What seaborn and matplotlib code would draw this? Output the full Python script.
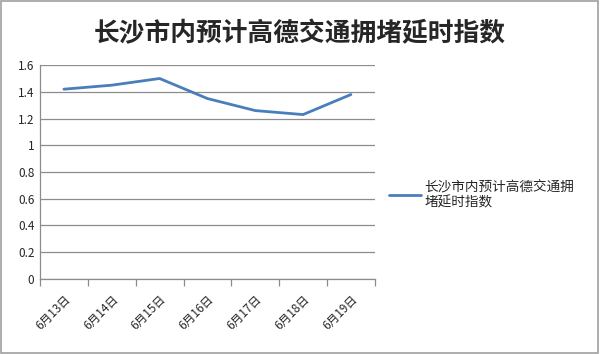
import matplotlib
matplotlib.use("Agg")
import matplotlib.pyplot as plt
import seaborn as sns
import pandas as pd
from matplotlib.ticker import FuncFormatter, FixedLocator
from matplotlib.patches import Rectangle

dates = ["6月13日", "6月14日", "6月15日", "6月16日", "6月17日", "6月18日", "6月19日"]
values = [1.42, 1.45, 1.50, 1.35, 1.26, 1.23, 1.38]
series_name = "长沙市内预计高德交通拥堵延时指数"
title = "长沙市内预计高德交通拥堵延时指数"
yticks = [0, 0.2, 0.4, 0.6, 0.8, 1.0, 1.2, 1.4, 1.6]

sns.set_theme(style="white")
plt.rcParams['font.family'] = ['Noto Sans CJK SC', 'DejaVu Sans']

df = pd.DataFrame({"date": dates, "value": values, "series": series_name})

fig = plt.figure(figsize=(6.0, 3.54), dpi=100)
fig.patch.set_facecolor("white")
fig.add_artist(Rectangle((0.002, 0.003), 0.995, 0.993, transform=fig.transFigure,
                         fill=False, edgecolor="#a0a0a0", linewidth=1.2))

ax = fig.add_axes([0.0667, 0.212, 0.558, 0.604])
sns.lineplot(data=df, x="date", y="value", hue="series", sort=False,
             palette=["#4a7ebb"], linewidth=2.0, ax=ax)

ax.set_xlim(-0.5, len(dates) - 0.5)
ax.set_ylim(0, 1.6)
ax.set_yticks(yticks)
ax.yaxis.set_major_formatter(FuncFormatter(lambda v, p: f"{v:g}"))
ax.grid(axis="y", color="#8c8c8c", linewidth=0.9)
ax.set_axisbelow(True)
ax.set_xlabel("")
ax.set_ylabel("")

ax.set_xticks(range(len(dates)))
ax.set_xticklabels(dates, rotation=45, ha="right", rotation_mode="anchor", fontsize=8.5)
ax.xaxis.set_minor_locator(FixedLocator([i - 0.5 for i in range(len(dates) + 1)]))
ax.tick_params(axis="x", which="major", length=0, pad=10)
ax.tick_params(axis="x", which="minor", length=5, color="#8c8c8c", width=0.9, bottom=True)
ax.tick_params(axis="y", length=0, labelsize=8.5, pad=4)

for s in ["top", "right"]:
    ax.spines[s].set_visible(False)
for s in ["left", "bottom"]:
    ax.spines[s].set_color("#8c8c8c")
    ax.spines[s].set_linewidth(0.9)

leg = ax.legend(handles=ax.get_lines()[:1], labels=["长沙市内预计高德交通拥\n堵延时指数"],
                loc="upper left", bbox_to_anchor=(1.025, 0.49), frameon=False,
                fontsize=9.8, handlelength=2.35, handletextpad=0.3, borderaxespad=0,
                labelspacing=0.2)

fig.text(0.5, 0.905, title, ha="center", va="center", fontsize=18.5, fontweight="bold")

fig.savefig("out.png", dpi=100)
